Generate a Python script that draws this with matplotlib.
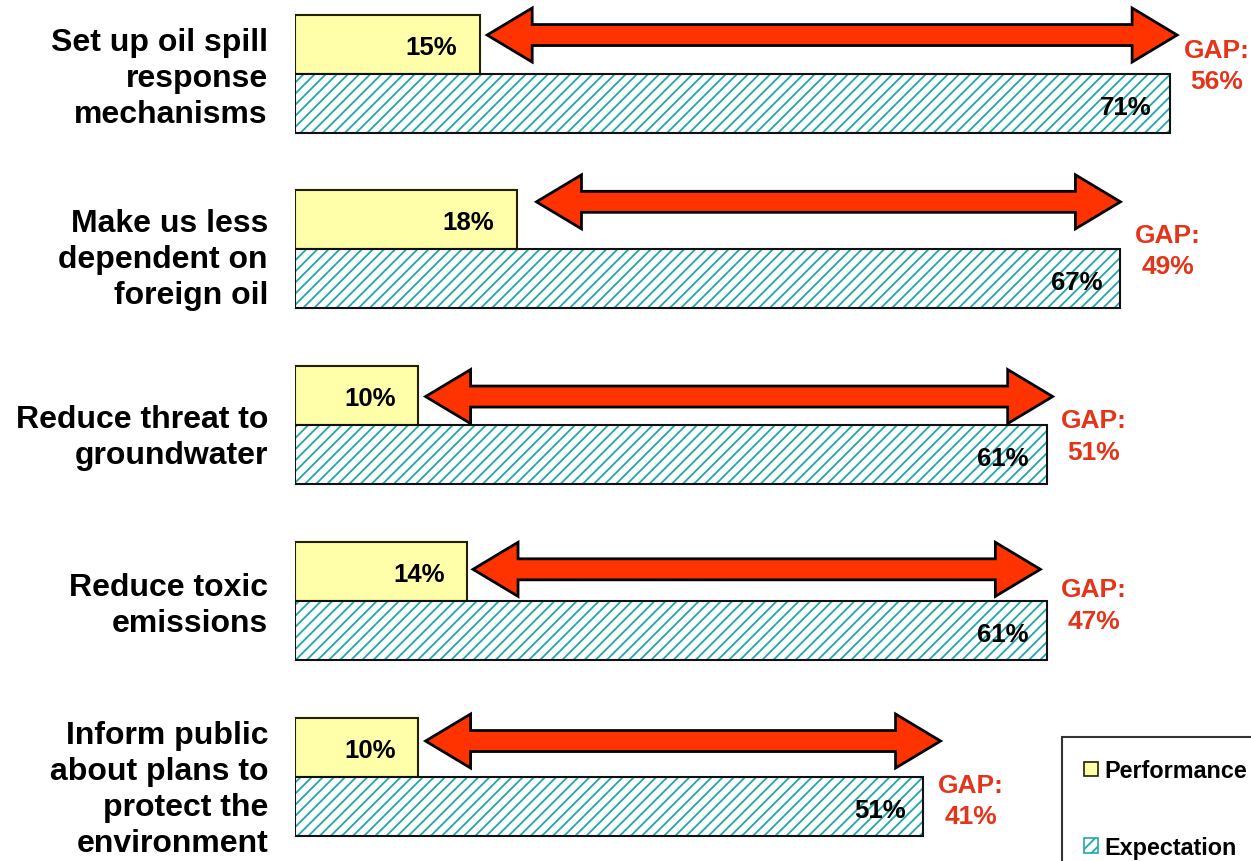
import numpy as np
import matplotlib.pyplot as plt
from matplotlib.patches import Polygon, Patch

categories = [
    "Set up oil spill\nresponse\nmechanisms",
    "Make us less\ndependent on\nforeign oil",
    "Reduce threat to\ngroundwater",
    "Reduce toxic\nemissions",
    "Inform public\nabout plans to\nprotect the\nenvironment",
]
performance = [15, 18, 10, 14, 10]
expectation = [71, 67, 61, 61, 51]
gaps = [e - p for p, e in zip(performance, expectation)]

# hand-placed look of the original slide (offsets only)
arrow_start_pad = [0.6, 1.6, 0.6, 0.45, 0.6]
arrow_end_pad = [0.6, 0.0, 0.5, -0.5, 1.4]
arrow_dy = [-0.051, -0.102, 0.006, -0.011, -0.034]
gap_dy = [-0.046, 0.006, 0.063, 0.023, 0.137]
label_dy = [0.026, 0.057, 0.068, 0.023, 0.071]

YELLOW = "#FFFFAA"
TEAL = "#20A8A8"
RED = "#FF3300"
GAP_RED = "#E4341A"

plt.rcParams['hatch.linewidth'] = 1.3
narrow = ['Liberation Sans Narrow', 'Liberation Sans', 'DejaVu Sans']
wide = ['Liberation Sans', 'DejaVu Sans']

fig = plt.figure(figsize=(12.51, 8.62), dpi=100)
ax = fig.add_axes([295 / 1251, 0, 1 - 295 / 1251, 1])
px_per_pct = 12.32
px_per_group = 175.75
ax.set_xlim(0, (1251 - 295) / px_per_pct)
ax.set_ylim((862 - 74.5) / px_per_group, -74.5 / px_per_group)
ax.axis('off')

y = np.arange(len(categories))
h = 59 / px_per_group
ax.barh(y - h / 2, performance, height=h, color=YELLOW, edgecolor='#222200',
        linewidth=1.5)
# hatch takes the edge colour, so draw the teal hatch and the black outline separately
ax.barh(y + h / 2, expectation, height=h, color='white', edgecolor=TEAL,
        linewidth=0, hatch='///')
ax.barh(y + h / 2, expectation, height=h, fill=False, edgecolor='#111111',
        linewidth=1.5)

L = 45 / px_per_pct
hw = 27 / px_per_group
sw = 10.5 / px_per_group
for i in range(len(categories)):
    x0 = performance[i] + arrow_start_pad[i]
    x1 = expectation[i] + arrow_end_pad[i]
    yc = y[i] - h / 2 + arrow_dy[i]
    pts = [(x0, yc), (x0 + L, yc - hw), (x0 + L, yc - sw), (x1 - L, yc - sw),
           (x1 - L, yc - hw), (x1, yc), (x1 - L, yc + hw), (x1 - L, yc + sw),
           (x0 + L, yc + sw), (x0 + L, yc + hw)]
    ax.add_patch(Polygon(pts, closed=True, facecolor=RED, edgecolor='black',
                         linewidth=2, joinstyle='miter', zorder=3))

    ax.text(performance[i] - 1.85, y[i] - h / 2 + 0.015, f"{performance[i]}%",
            ha='right', va='center', fontsize=18.5, fontweight='bold', family=narrow)
    ax.text(expectation[i] - 1.45, y[i] + h / 2 + 0.02, f"{expectation[i]}%",
            ha='right', va='center', fontsize=18.5, fontweight='bold', family=narrow)
    ax.text(expectation[i] + 3.85, y[i] + gap_dy[i], f"GAP:\n{gaps[i]}%",
            ha='center', va='center', fontsize=19, fontweight='bold', color=GAP_RED,
            linespacing=1.4, family=narrow)
    ax.text(-27 / px_per_pct, y[i] + label_dy[i], categories[i], ha='right', va='center',
            fontsize=23, fontweight='bold', linespacing=1.26, family=wide)

handles = [Patch(facecolor=YELLOW, edgecolor='#222200', linewidth=1.2),
           Patch(facecolor='white', edgecolor=TEAL, hatch='///', linewidth=1.2)]
leg = fig.legend(handles, ['Performance', 'Expectation'], loc='upper left',
                 bbox_to_anchor=(1062 / 1251, 1 - 738 / 862),
                 frameon=True, fancybox=False, handlelength=0.6, handleheight=0.6,
                 handletextpad=0.25, labelspacing=2.3, borderpad=0.95, borderaxespad=0,
                 prop={'family': narrow, 'weight': 'bold', 'size': 16.8})
leg.get_frame().set_edgecolor('black')
leg.get_frame().set_linewidth(1.5)

fig.savefig('out.png', dpi=100)
